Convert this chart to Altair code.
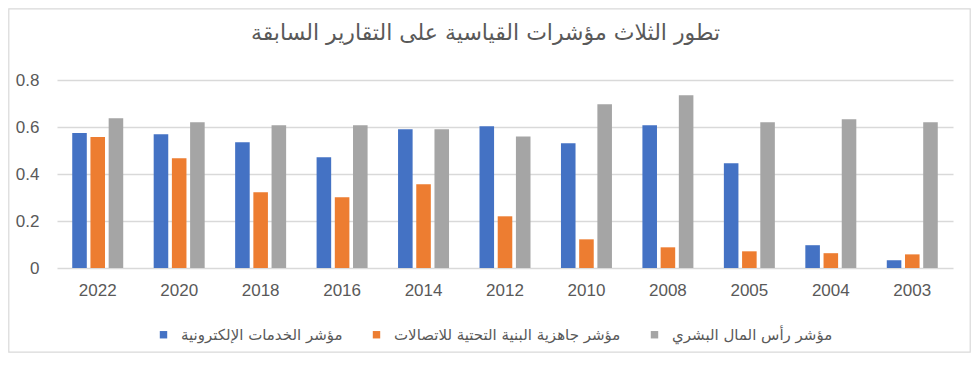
import altair as alt
import pandas as pd

years = ["2022", "2020", "2018", "2016", "2014", "2012", "2010", "2008", "2005", "2004", "2003"]
egov = [0.574, 0.569, 0.535, 0.471, 0.590, 0.603, 0.531, 0.607, 0.446, 0.097, 0.033]
telecom = [0.557, 0.467, 0.322, 0.301, 0.356, 0.220, 0.122, 0.088, 0.071, 0.063, 0.058]
human = [0.637, 0.620, 0.607, 0.607, 0.590, 0.560, 0.697, 0.735, 0.620, 0.633, 0.620]

series_names = [
    "مؤشر الخدمات الإلكترونية",
    "مؤشر جاهزية البنية التحتية للاتصالات",
    "مؤشر رأس المال البشري",
]
series_colors = ["#4472C4", "#ED7D31", "#A5A5A5"]
title_text = "تطور الثلاث مؤشرات القياسية على التقارير السابقة"
y_ticks = [0, 0.2, 0.4, 0.6, 0.8]

rows = []
for name, vals in zip(series_names, [egov, telecom, human]):
    for yr, v in zip(years, vals):
        rows.append({"year": yr, "series": name, "value": v})
df = pd.DataFrame(rows)

W, H = 896, 188
PAD = {"left": 49, "top": 72, "right": 18, "bottom": 85}

frame = alt.Chart(pd.DataFrame({"a": [0]})).mark_rect(
    fill="white", fillOpacity=0, stroke="#d9d9d9", strokeWidth=1.2
).encode(
    x=alt.value(-PAD["left"] + 0.8),
    x2=alt.value(W + PAD["right"] - 0.8),
    y=alt.value(-PAD["top"] + 0.8),
    y2=alt.value(H + PAD["bottom"] - 0.8),
)

title = alt.Chart(pd.DataFrame({"t": [title_text]})).mark_text(
    font="DejaVu Sans", fontSize=22, color="#595959", align="center", baseline="middle"
).encode(
    text="t:N",
    x=alt.value(428.5),
    y=alt.value(-47),
)

bars = alt.Chart(df).mark_bar().encode(
    x=alt.X(
        "year:N",
        sort=years,
        scale=alt.Scale(paddingInner=0.374, paddingOuter=0.187),
        axis=alt.Axis(
            title=None, labelAngle=0, ticks=False, domain=False,
            labelFont="Liberation Sans", labelFontSize=17, labelColor="#595959",
            labelPadding=14,
        ),
    ),
    xOffset=alt.XOffset(
        "series:N", sort=series_names,
        scale=alt.Scale(paddingInner=0.2, paddingOuter=0),
    ),
    y=alt.Y(
        "value:Q",
        scale=alt.Scale(domain=[0, 0.8], nice=False),
        axis=alt.Axis(
            title=None, values=y_ticks, format=".1~f", ticks=False, domain=False,
            labelFont="Liberation Sans", labelFontSize=17, labelColor="#595959",
            labelPadding=18, gridColor="#d9d9d9", gridWidth=1.3,
        ),
    ),
    color=alt.Color(
        "series:N",
        sort=series_names,
        scale=alt.Scale(domain=series_names, range=series_colors),
        legend=alt.Legend(
            title=None, orient="none", direction="horizontal",
            legendX=99, legendY=247,
            symbolType="square", symbolSize=55, symbolStrokeWidth=0,
            labelFont="DejaVu Sans", labelFontSize=15, labelColor="#595959",
            labelLimit=500, labelOffset=10, columnPadding=26, padding=0,
        ),
    ),
)

chart = alt.layer(frame, title, bars).properties(
    width=W,
    height=H,
    padding=PAD,
    autosize=alt.AutoSizeParams(type="none"),
).configure_view(stroke=None)

chart.save("out.html", embed_options={"renderer": "svg", "actions": False})
